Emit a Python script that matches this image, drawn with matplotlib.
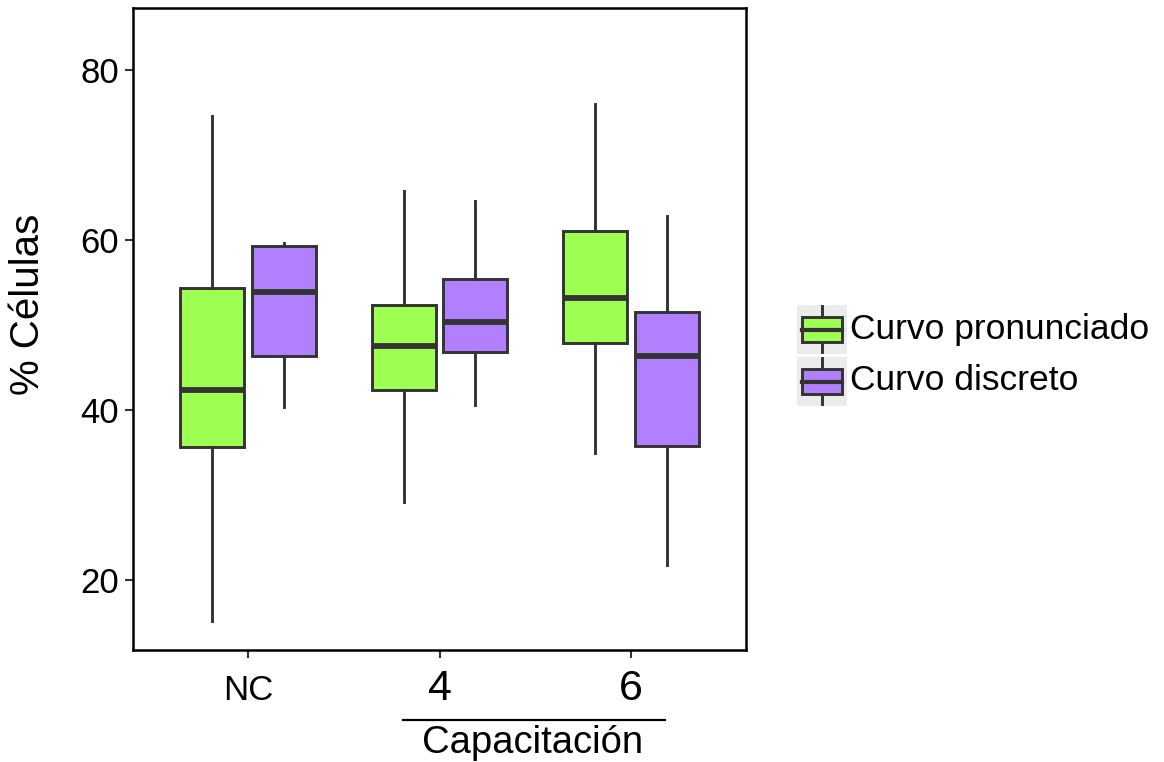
import matplotlib
matplotlib.use("Agg")
import matplotlib.pyplot as plt
from matplotlib.patches import Rectangle
from matplotlib.lines import Line2D

plt.rcParams['font.family'] = ['Liberation Sans', 'DejaVu Sans']

groups = ['NC', '4', '6']
series = ['Curvo pronunciado', 'Curvo discreto']
colors = ['#9CFF52', '#B180FF']

# Five-number summaries per group: whisker low, Q1, median, Q3, whisker high
pron_whislo = [15.2, 29.2, 34.9]
pron_q1 = [35.6, 42.4, 47.9]
pron_med = [42.35, 47.55, 53.15]
pron_q3 = [54.3, 52.3, 61.05]
pron_whishi = [74.6, 65.8, 76.0]

disc_whislo = [40.3, 40.6, 21.8]
disc_q1 = [46.3, 46.8, 35.8]
disc_med = [53.85, 50.3, 46.4]
disc_q3 = [59.35, 55.4, 51.5]
disc_whishi = [59.7, 64.6, 62.8]

y_ticks = [20, 40, 60, 80]

W, H = 1164, 762
fig = plt.figure(figsize=(W / 100, H / 100), dpi=100)
ax = fig.add_axes([133 / W, 1 - 650 / H, (746 - 133) / W, (650 - 8) / H])

edge = '#333333'
dodge = 0.1875
bw = 0.334

def stats(lo, q1, med, q3, hi):
    return [dict(whislo=a, q1=b, med=c, q3=d, whishi=e, fliers=[])
            for a, b, c, d, e in zip(lo, q1, med, q3, hi)]

all_stats = [
    stats(pron_whislo, pron_q1, pron_med, pron_q3, pron_whishi),
    stats(disc_whislo, disc_q1, disc_med, disc_q3, disc_whishi),
]

for k, (st, col) in enumerate(zip(all_stats, colors)):
    pos = [i + 1 + (-dodge if k == 0 else dodge) for i in range(len(groups))]
    ax.bxp(st, positions=pos, widths=bw, patch_artist=True, showcaps=False,
           showfliers=False,
           boxprops=dict(facecolor=col, edgecolor=edge, linewidth=2.1),
           medianprops=dict(color=edge, linewidth=4.2, solid_capstyle='butt'),
           whiskerprops=dict(color=edge, linewidth=2.1))

ax.set_xlim(0.4, 3.6)
ax.set_ylim(20 - 70 / 8.5, 80 + 62 / 8.5)
ax.set_xticks([1, 2, 3])
ax.set_xticklabels(groups)
for lbl, fs in zip(ax.get_xticklabels(), [25, 31, 31]):
    lbl.set_fontsize(fs)
    lbl.set_va('baseline')
ax.set_yticks(y_ticks)
ax.set_yticklabels([str(v) for v in y_ticks], fontsize=25)
ax.tick_params(axis='both', length=6, width=1.5, color='#333333')
ax.tick_params(axis='y', pad=4)
ax.tick_params(axis='x', pad=30)
for sp in ax.spines.values():
    sp.set_linewidth(1.8)
    sp.set_color('black')

# Overlay in pixel coordinates for the y title, legend and the bracket label
ov = fig.add_axes([0, 0, 1, 1], facecolor='none')
ov.set_xlim(0, W)
ov.set_ylim(H, 0)
ov.axis('off')

ov.text(28, 304, '% Células', fontsize=29, rotation=90, ha='center', va='center')

ov.add_line(Line2D([403, 665], [720, 720], color='black', linewidth=1.6))
ov.text(533, 743, 'Capacitación', fontsize=27.5, ha='center', va='center')

for k, (name, col) in enumerate(zip(series, colors)):
    top = 305 + k * 52
    ov.add_patch(Rectangle((797, top), 50, 49, facecolor='#EBEBEB', edgecolor='none',
                           zorder=1))
    ov.add_line(Line2D([822, 822], [top + 1, top + 47], color=edge, linewidth=2.1,
                       zorder=2))
    ov.add_patch(Rectangle((802, top + 12), 40, 25, facecolor=col, edgecolor=edge,
                           linewidth=2.1, zorder=3))
    ov.add_line(Line2D([802, 842], [top + 24.5, top + 24.5], color=edge, linewidth=3,
                       zorder=4))
    ov.text(850, top + 24, name, fontsize=25.5, ha='left', va='center')

fig.savefig('out.png', dpi=100)
